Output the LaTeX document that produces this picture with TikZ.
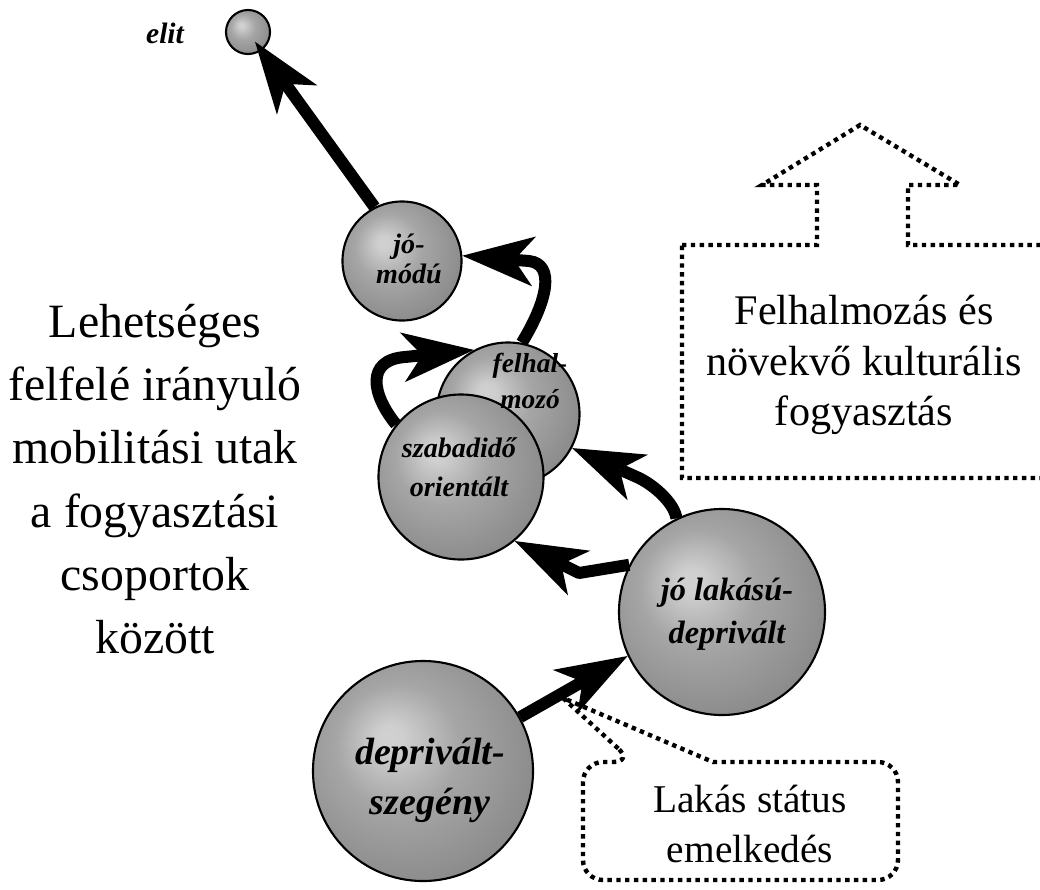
\documentclass[tikz,border=0pt]{standalone}
\usepackage{fontspec}
\setmainfont{Liberation Serif}
\usepackage{tikz}
\usetikzlibrary{arrows.meta}

\pgfdeclareradialshading{bubble}{\pgfpoint{-8bp}{8bp}}{color(0bp)=(black!18); color(3bp)=(black!19); color(14bp)=(black!35); color(36bp)=(black!50); color(50bp)=(black!50)}

\tikzset{
  group/.style={circle, draw, line width=1.5pt, shade, shading=bubble, inner sep=0pt},
  grouptext/.style={align=center},
  moveline/.style={line width=3mm, line join=round, -{Stealth[length=18mm, width=12.5mm, inset=5mm, line width=0pt]}},
  dotline/.style={line width=1.1mm, dash pattern=on 1.1mm off 1.1mm}
}

\begin{document}
\begin{tikzpicture}[x=0.025cm, y=-0.025cm]
\useasboundingbox (0,0) rectangle (1040,889);

% callouts
\draw[dotline] (682,245) -- (817,245) -- (817,185) -- (762,185) -- (860,125) -- (960,185) -- (908,185) -- (908,245) -- (1060,245) -- (1060,478) -- (682,478) -- cycle;
\node[align=center, font=\fontsize{30}{36}\selectfont] (accum) at (864,365) {Felhalmozás és\\növekvő kulturális\\fogyasztás};

\draw[dotline, rounded corners=5mm] (633,762) [sharp corners] -- (563,698) -- (713,762) [rounded corners=5mm] -- (898,762) -- (898,880) -- (583,880) -- (583,762) -- cycle;
\node[align=center, font=\fontsize{28}{35}\selectfont] (housing) at (750,824) {Lakás státus\\emelkedés};

\node[align=center, font=\fontsize{34}{45}\selectfont] (title) at (155,479) {Lehetséges\\felfelé irányuló\\mobilitási utak\\a fogyasztási\\csoportok\\között};

% groups
\node[group, minimum size=11mm] (elit) at (248,32) {};
\node[group, minimum size=29.75mm] (jomodu) at (402,261) {};
\node[group, minimum size=35.75mm] (felhal) at (508,414) {};
\node[group, minimum size=41.25mm] (szabad) at (461,477) {};
\node[group, minimum size=51.5mm] (jolakas) at (722,612) {};
\node[group, minimum size=55mm] (depriv) at (423,771) {};

\node[grouptext, font=\bfseries\itshape\fontsize{21}{23}\selectfont] (elit-txt) at (165,33) {elit};
\node[grouptext, font=\bfseries\itshape\fontsize{20}{21.5}\selectfont] (jomodu-txt) at (409,259) {jó-\\módú};
\node[grouptext, font=\bfseries\itshape\fontsize{19.5}{25}\selectfont] (felhal-txt) at (530,381) {felhal-\\mozó};
\node[grouptext, font=\bfseries\itshape\fontsize{20}{28}\selectfont] (szabad-txt) at (459,467) {szabadidő\\orientált};
\node[grouptext, font=\bfseries\itshape\fontsize{23}{30.5}\selectfont] (jolakas-txt) at (727,614) {jó lakású-\\deprivált};
\node[grouptext, font=\bfseries\itshape\fontsize{27}{35.5}\selectfont] (depriv-txt) at (430,780) {deprivált-\\szegény};

% paths
\draw[moveline, shorten >=3mm] (jomodu.117) -- (elit.center);
\draw[moveline] (felhal.79) .. controls (548,300) and (555,264) .. (529,261) -- (jomodu.5);
\draw[moveline] (szabad.141) .. controls (372,395) and (365,360) .. (405,357) -- (felhal.118);
\draw[moveline] (jolakas.116) .. controls (675,505) and (657,487) .. (639,478) -- (felhal.-28);
\draw[moveline] (jolakas.153) -- (579,573) -- (szabad.-50);
\draw[moveline] (depriv.29) -- (jolakas.205);
\end{tikzpicture}
\end{document}
